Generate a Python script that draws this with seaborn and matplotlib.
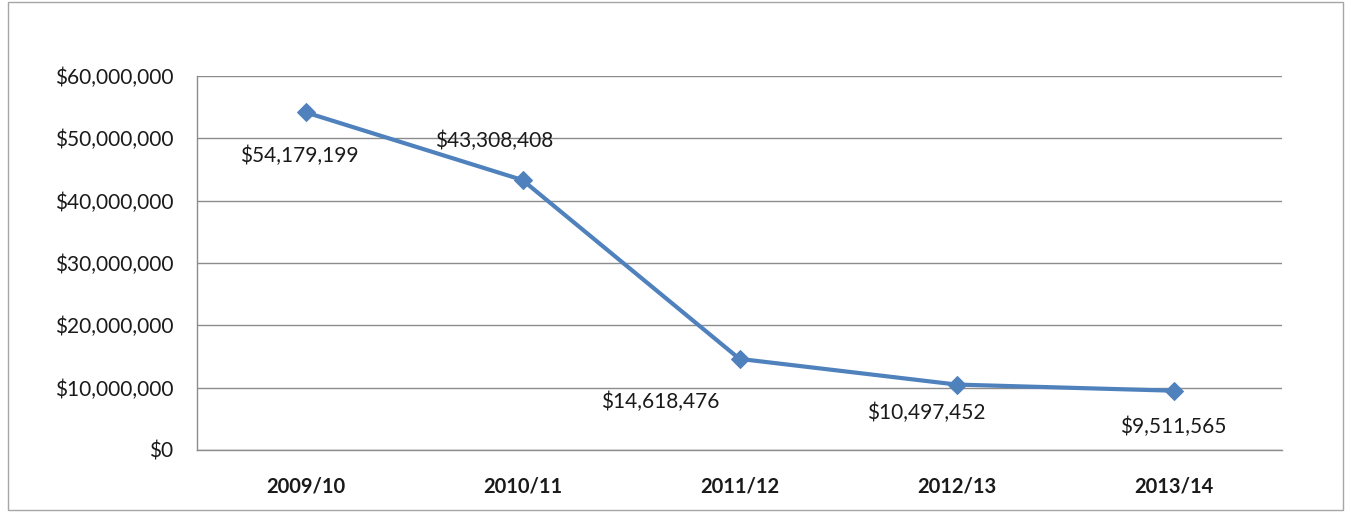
import matplotlib
matplotlib.use("Agg")
import matplotlib.pyplot as plt
import matplotlib.patches as patches
from matplotlib.ticker import FuncFormatter, FixedLocator
import seaborn as sns

years = ["2009/10", "2010/11", "2011/12", "2012/13", "2013/14"]
funding = [54179199, 43308408, 14618476, 10497452, 9511565]
labels = ["$54,179,199", "$43,308,408", "$14,618,476", "$10,497,452", "$9,511,565"]
# label offsets in pixels (dx, dy downward)
offsets = [(-6, 44), (-28, -39), (-79, 43), (-30, 28), (0, 36)]

sns.set_style("white")
plt.rcParams['font.family'] = ['Lato', 'DejaVu Sans']

W, H = 1351, 512
fig = plt.figure(figsize=(W / 100, H / 100), dpi=100)
ax = fig.add_axes([197 / W, 1 - 450 / H, (1282 - 197) / W, (450 - 76) / H])

sns.lineplot(x=years, y=funding, ax=ax, color="#4F81BD", linewidth=3,
             marker="D", markersize=9, markeredgecolor="#4F81BD", sort=False)

ax.set_xlim(-0.5, 4.5)
ax.set_ylim(0, 60000000)
ax.set_yticks(range(0, 60000001, 10000000))
ax.yaxis.set_major_formatter(FuncFormatter(lambda v, p: "${:,.0f}".format(v)))
ax.grid(axis="y", color="#8c8c8c", linewidth=1)
ax.set_axisbelow(True)
for s in ["top", "right"]:
    ax.spines[s].set_visible(False)
for s in ["left", "bottom"]:
    ax.spines[s].set_color("#8c8c8c")
    ax.spines[s].set_linewidth(1)

ax.set_xticks(range(len(years)))
ax.set_xticklabels(years, fontweight="bold", fontsize=14.5, color="#1a1a1a")
ax.tick_params(axis="x", length=0, pad=19)
ax.xaxis.set_minor_locator(FixedLocator([i - 0.5 for i in range(len(years) + 1)]))
ax.tick_params(axis="x", which="minor", length=7, color="#8c8c8c", direction="out")
ax.tick_params(axis="y", length=8, color="#8c8c8c", labelsize=15, labelcolor="#1a1a1a", pad=9)
ax.set_xlabel("")
ax.set_ylabel("")

for i, (v, lab) in enumerate(zip(funding, labels)):
    dx, dy = offsets[i]
    ax.annotate(lab, xy=(i, v), xytext=(dx * 0.72, -dy * 0.72), textcoords="offset points",
                ha="center", va="center", fontsize=15, color="#1a1a1a")

fig.patches.append(patches.Rectangle((8 / W, 2 / H), (1343 - 8) / W, (510 - 2) / H,
                                     transform=fig.transFigure, fill=False,
                                     edgecolor="#a6a6a6", linewidth=1))

fig.savefig("out.png", dpi=100)
